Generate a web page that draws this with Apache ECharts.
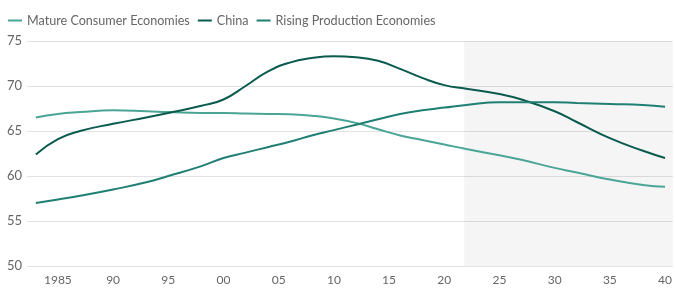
<!DOCTYPE html>
<html>
  <head>
    <meta charset="utf-8" />
    <title>Economies chart</title>
    <script src="https://cdn.jsdelivr.net/npm/echarts@6.0.0/dist/echarts.min.js"></script>
    <style>
      body { margin: 0; background: #fff; }
    </style>
  </head>
<body>
  <div id="chart" style="width:675px;height:290px;"></div>

  <script type="text/javascript">
var years = [1983, 1985, 1987, 1990, 1993, 1995, 1998, 2000, 2002, 2004, 2006, 2008, 2010,
  2012, 2014, 2016, 2018, 2020, 2022, 2025, 2027, 2030, 2032, 2035, 2038, 2040];
var mature = [66.5, 66.9, 67.1, 67.3, 67.2, 67.1, 67.0, 67.0, 66.95, 66.9, 66.85, 66.7, 66.4,
  65.9, 65.2, 64.5, 64.0, 63.5, 63.0, 62.3, 61.8, 60.9, 60.4, 59.6, 59.0, 58.8];
var china = [62.4, 64.1, 65.0, 65.8, 66.5, 67.0, 67.8, 68.5, 70.0, 71.6, 72.6, 73.1, 73.3,
  73.2, 72.8, 71.9, 70.9, 70.1, 69.7, 69.1, 68.5, 67.2, 66.0, 64.2, 62.8, 62.0];
var rising = [57.0, 57.4, 57.8, 58.5, 59.3, 60.0, 61.1, 62.0, 62.6, 63.2, 63.8, 64.5, 65.1,
  65.7, 66.3, 66.9, 67.3, 67.6, 67.9, 68.2, 68.2, 68.2, 68.1, 68.0, 67.9, 67.7];
var tickYears = [1985, 1990, 1995, 2000, 2005, 2010, 2015, 2020, 2025, 2030, 2035, 2040];
var forecastStart = 2021.8;

function pairs(vals) {
  return years.map(function (y, i) { return [y, vals[i]]; });
}

var chart = echarts.init(document.getElementById('chart'));
var font = 'Lato, "Noto Sans", sans-serif';

var option = {
  animation: false,
  color: ['#4ba596', '#0a5b4e', '#1f7f73'],
  legend: {
    left: 3,
    top: 9,
    itemWidth: 14,
    itemHeight: 2,
    itemGap: 8,
    icon: 'rect',
    textStyle: { color: '#666', fontSize: 12.6, fontFamily: font },
    data: ['Mature Consumer Economies', 'China', 'Rising Production Economies']
  },
  grid: { left: 27, right: 0, top: 41, bottom: 24 },
  xAxis: {
    type: 'value',
    min: 1982.2,
    max: 2040.7,
    axisLine: { show: false },
    axisTick: { show: false },
    splitLine: { show: false },
    axisLabel: {
      customValues: tickYears,
      color: '#666',
      fontSize: 12,
      fontFamily: font,
      margin: 8,
      formatter: function (v) {
        return v === 1985 ? '1985' : String(v % 100).padStart(2, '0');
      }
    }
  },
  yAxis: {
    type: 'value',
    min: 50,
    max: 75,
    interval: 5,
    axisLine: { show: false },
    axisTick: { show: false },
    splitLine: { lineStyle: { color: '#e2e2e2' } },
    axisLabel: { color: '#666', fontSize: 13, fontFamily: font, margin: 5 }
  },
  series: [
    {
      name: 'Mature Consumer Economies',
      type: 'line',
      smooth: true,
      showSymbol: false,
      lineStyle: { width: 2 },
      data: pairs(mature),
      markArea: {
        silent: true,
        itemStyle: { color: 'rgba(0,0,0,0.04)' },
        data: [[{ xAxis: forecastStart }, { xAxis: 2040.7 }]]
      }
    },
    {
      name: 'China',
      type: 'line',
      smooth: true,
      showSymbol: false,
      lineStyle: { width: 2 },
      data: pairs(china)
    },
    {
      name: 'Rising Production Economies',
      type: 'line',
      smooth: true,
      showSymbol: false,
      lineStyle: { width: 2 },
      data: pairs(rising)
    }
  ]
};

chart.setOption(option);
  </script>
</body>
</html>
